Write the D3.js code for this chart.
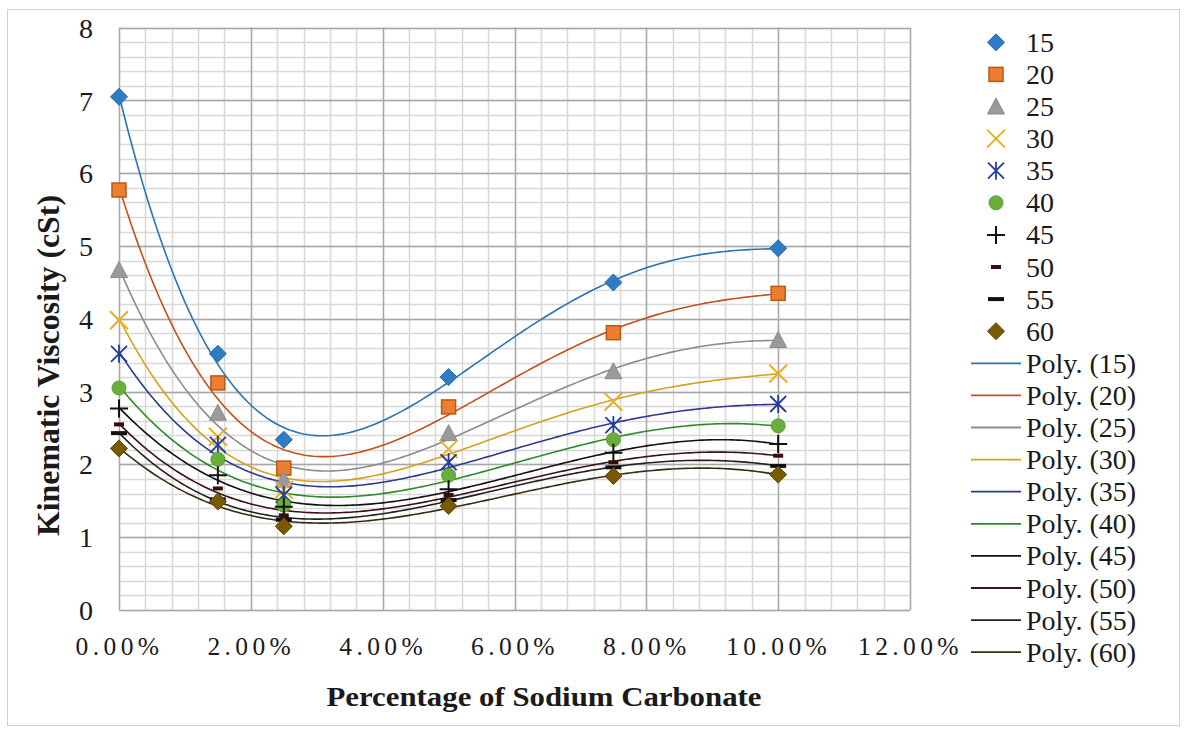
<!DOCTYPE html>
<html>
<head>
<meta charset="utf-8">
<script src="https://cdn.jsdelivr.net/npm/d3@7"></script>
<style>
  html, body { margin: 0; padding: 0; background: #fff; }
  svg { display: block; }
</style>
</head>
<body>
<svg id="chart" width="1188" height="729"></svg>
<script>
// ---------------- data ----------------
const xValues = [0, 0.015, 0.025, 0.05, 0.075, 0.10];          // Percentage of Sodium Carbonate
const seriesNames = ["15", "20", "25", "30", "35", "40", "45", "50", "55", "60"];
const v15 = [7.05, 3.52, 2.34, 3.20, 4.50, 4.97];
const v20 = [5.77, 3.12, 1.95, 2.79, 3.81, 4.35];
const v25 = [4.67, 2.71, 1.79, 2.43, 3.28, 3.71];
const v30 = [3.98, 2.38, 1.65, 2.21, 2.86, 3.25];
const v35 = [3.52, 2.27, 1.58, 2.03, 2.54, 2.83];
const v40 = [3.05, 2.07, 1.44, 1.85, 2.34, 2.53];
const v45 = [2.77, 1.85, 1.42, 1.66, 2.16, 2.28];
const v50 = [2.55, 1.67, 1.30, 1.58, 2.03, 2.12];
const v55 = [2.43, 1.52, 1.24, 1.51, 1.96, 1.98];
const v60 = [2.22, 1.49, 1.15, 1.43, 1.84, 1.86];
const seriesValues = [v15, v20, v25, v30, v35, v40, v45, v50, v55, v60];
const xTicks = [0, 0.02, 0.04, 0.06, 0.08, 0.10, 0.12];
const yTicks = [0, 1, 2, 3, 4, 5, 6, 7, 8];
const polyOrder = 4;   // Excel "Poly." trendline order

// ---------------- styles ----------------
const FONT = "Liberation Serif";
const TXT = "#1a1a1a";
const markerShapes = ["diamond", "square", "triangle", "x", "asterisk", "circle", "plus", "dashSmall", "dash", "diamond"];
const markerFill   = ["#2E7DC4", "#ED7D31", "#9A9A9A", "none", "none", "#6AAE3C", "none", "#3a0c0c", "#111", "#7A5A00"];
const markerStroke = ["#2468A8", "#B85A14", "#8A8A8A", "#E8B020", "#263C9C", "#5C9A34", "#111", "#3a0c0c", "#111", "#5E4600"];
const lineColor    = ["#2B73B3", "#C4501A", "#8C8C8C", "#D6A21C", "#2E3A8C", "#2F8A2A", "#111", "#3a1414", "#222", "#3a2c14"];

const svg = d3.select("#chart");

// outer frame
svg.append("rect").attr("x", 7.5).attr("y", 9.5).attr("width", 1172).attr("height", 716)
  .attr("fill", "#fff").attr("stroke", "#d0d0d0").attr("stroke-width", 1);

const x = d3.scaleLinear().domain([0, 0.12]).range([119, 910]);
const y = d3.scaleLinear().domain([0, 8]).range([610, 27.7]);

// gridlines (minor then major)
const g = svg.append("g");
const minorX = d3.range(0, 0.12 + 1e-9, 0.004);
const minorY = d3.range(0, 8 + 1e-9, 0.2);
g.selectAll(".mx").data(minorX).join("line")
  .attr("x1", d => Math.round(x(d)) + 0.5).attr("x2", d => Math.round(x(d)) + 0.5)
  .attr("y1", y(8)).attr("y2", y(0)).attr("stroke", "#d8d8d8").attr("stroke-width", 1.5);
g.selectAll(".my").data(minorY).join("line")
  .attr("y1", d => Math.round(y(d)) + 0.5).attr("y2", d => Math.round(y(d)) + 0.5)
  .attr("x1", x(0)).attr("x2", x(0.12)).attr("stroke", "#d8d8d8").attr("stroke-width", 1.5);
g.selectAll(".Mx").data(xTicks).join("line")
  .attr("x1", d => Math.round(x(d)) + 0.5).attr("x2", d => Math.round(x(d)) + 0.5)
  .attr("y1", y(8)).attr("y2", y(0)).attr("stroke", "#a8a8a8").attr("stroke-width", 1.4);
g.selectAll(".My").data(yTicks).join("line")
  .attr("y1", d => Math.round(y(d)) + 0.5).attr("y2", d => Math.round(y(d)) + 0.5)
  .attr("x1", x(0)).attr("x2", x(0.12)).attr("stroke", "#a8a8a8").attr("stroke-width", 1.4);

// axes (labels only)
const xAxis = d3.axisBottom(x).tickValues(xTicks).tickFormat(d3.format(".2%")).tickSize(0).tickPadding(0);
const xa = svg.append("g").attr("transform", `translate(0,${y(0)})`).call(xAxis)
  .attr("font-family", null).attr("font-size", null);
xa.select(".domain").remove();
xa.selectAll("text").attr("y", 45).attr("dy", 0)
  .style("font-family", FONT).style("font-size", "25.5px").style("fill", TXT).style("letter-spacing", "4.4px");

const yAxis = d3.axisLeft(y).tickValues(yTicks).tickFormat(d3.format("d")).tickSize(0).tickPadding(0);
const ya = svg.append("g").attr("transform", `translate(93,0)`).call(yAxis)
  .attr("font-family", null).attr("font-size", null);
ya.select(".domain").remove();
ya.selectAll("text").attr("x", 0).attr("dy", "0.34em")
  .style("font-family", FONT).style("font-size", "28px").style("fill", TXT);

// axis titles
svg.append("text").attr("x", 544).attr("y", 706).attr("text-anchor", "middle")
  .style("font-family", FONT).style("font-size", "28px").style("font-weight", "bold").style("fill", TXT)
  .attr("textLength", 435).attr("lengthAdjust", "spacingAndGlyphs")
  .text("Percentage of Sodium Carbonate");
svg.append("text").attr("transform", "translate(59,365.5) rotate(-90)").attr("text-anchor", "middle")
  .style("font-family", FONT).style("font-size", "32px").style("font-weight", "bold").style("fill", TXT)
  .attr("textLength", 341).attr("lengthAdjust", "spacingAndGlyphs")
  .text("Kinematic Viscosity (cSt)");

// ---------------- polynomial trendline (least squares, like Excel's Poly. trendline) ----------------
function polyfit(xs, ys, order) {
  const n = order + 1;
  const A = [];
  for (let r = 0; r < n; r++) {
    const row = [];
    for (let c = 0; c < n; c++) row.push(d3.sum(xs, v => Math.pow(v, r + c)));
    row.push(d3.sum(xs, (v, i) => Math.pow(v, r) * ys[i]));
    A.push(row);
  }
  for (let i = 0; i < n; i++) {
    let p = i;
    for (let k = i + 1; k < n; k++) if (Math.abs(A[k][i]) > Math.abs(A[p][i])) p = k;
    [A[i], A[p]] = [A[p], A[i]];
    for (let k = i + 1; k < n; k++) {
      const f = A[k][i] / A[i][i];
      for (let j = i; j <= n; j++) A[k][j] -= f * A[i][j];
    }
  }
  const coef = new Array(n).fill(0);
  for (let i = n - 1; i >= 0; i--) {
    let s = A[i][n];
    for (let j = i + 1; j < n; j++) s -= A[i][j] * coef[j];
    coef[i] = s / A[i][i];
  }
  return t => { let s = 0; for (let i = n - 1; i >= 0; i--) s = s * t + coef[i]; return s; };
}

const line = d3.line().x(d => x(d[0])).y(d => y(d[1]));
const xMin = d3.min(xValues), xMax = d3.max(xValues);
const samples = d3.range(0, 201).map(i => xMin + (xMax - xMin) * i / 200);
const toT = v => v * 10; // rescale x (fraction) for numerical conditioning

const trends = svg.append("g");
seriesValues.forEach((vals, si) => {
  const f = polyfit(xValues.map(toT), vals, polyOrder);
  trends.append("path")
    .datum(samples.map(s => [s, f(toT(s))]))
    .attr("d", line).attr("fill", "none")
    .attr("stroke", lineColor[si]).attr("stroke-width", 1.6);
});

// ---------------- markers ----------------
function drawMarker(sel, shape, cx, cy, fill, stroke) {
  const gm = sel.append("g").attr("transform", `translate(${cx},${cy})`);
  if (shape === "diamond") {
    gm.append("path").attr("d", "M0,-8.5L8.5,0L0,8.5L-8.5,0Z").attr("fill", fill).attr("stroke", stroke).attr("stroke-width", 1);
  } else if (shape === "square") {
    gm.append("rect").attr("x", -7).attr("y", -7).attr("width", 14).attr("height", 14).attr("fill", fill).attr("stroke", stroke).attr("stroke-width", 1.5);
  } else if (shape === "triangle") {
    gm.append("path").attr("d", "M0,-8.5L8.5,7.5L-8.5,7.5Z").attr("fill", fill).attr("stroke", stroke).attr("stroke-width", 1);
  } else if (shape === "x") {
    gm.append("path").attr("d", "M-9,-9L9,9M-9,9L9,-9").attr("stroke", stroke).attr("stroke-width", 2).attr("fill", "none");
  } else if (shape === "asterisk") {
    gm.append("path").attr("d", "M-8,-8L8,8M-8,8L8,-8M0,-9L0,9").attr("stroke", stroke).attr("stroke-width", 1.8).attr("fill", "none");
  } else if (shape === "circle") {
    gm.append("circle").attr("r", 7).attr("fill", fill).attr("stroke", stroke).attr("stroke-width", 1);
  } else if (shape === "plus") {
    gm.append("path").attr("d", "M-9,0L9,0M0,-9L0,9").attr("stroke", stroke).attr("stroke-width", 2).attr("fill", "none");
  } else if (shape === "dashSmall") {
    gm.append("rect").attr("x", -5).attr("y", -2).attr("width", 10).attr("height", 4).attr("fill", fill);
  } else if (shape === "dash") {
    gm.append("rect").attr("x", -8).attr("y", -2).attr("width", 16).attr("height", 4).attr("fill", fill);
  }
}

const marks = svg.append("g");
seriesValues.forEach((vals, si) => {
  vals.forEach((v, i) => drawMarker(marks, markerShapes[si], x(xValues[i]), y(v), markerFill[si], markerStroke[si]));
});

// ---------------- legend ----------------
const leg = svg.append("g");
const rowH = 32.1, leg0 = 42.3;
seriesNames.forEach((name, si) => {
  const cy = leg0 + si * rowH;
  drawMarker(leg, markerShapes[si], 996, cy, markerFill[si], markerStroke[si]);
  leg.append("text").attr("x", 1026).attr("y", cy).attr("dy", "0.34em")
    .style("font-family", FONT).style("font-size", "28px").style("fill", TXT).text(name);
});
seriesNames.forEach((name, si) => {
  const cy = leg0 + (seriesNames.length + si) * rowH;
  leg.append("line").attr("x1", 971).attr("x2", 1021).attr("y1", cy).attr("y2", cy)
    .attr("stroke", lineColor[si]).attr("stroke-width", 1.8);
  leg.append("text").attr("x", 1026).attr("y", cy).attr("dy", "0.34em")
    .style("font-family", FONT).style("font-size", "28px").style("fill", TXT).text(`Poly. (${name})`);
});
</script>
</body>
</html>
